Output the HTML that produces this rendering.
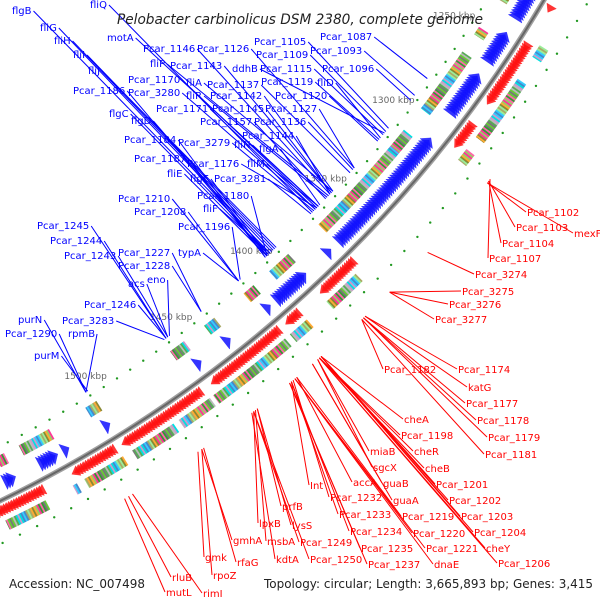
<!DOCTYPE html>
<html><head><meta charset="utf-8"><style>
html,body{margin:0;padding:0;background:#fff;}
svg{display:block;}
text{font-family:"DejaVu Sans","Liberation Sans",sans-serif;}
</style></head><body>
<svg id="map" width="600" height="600" viewBox="0 0 600 600" xmlns="http://www.w3.org/2000/svg">
<g id="tracks"></g>
<g id="leaders"></g>
<g id="labels"></g>
<text x="117" y="24" font-size="14" font-style="italic" fill="#222" textLength="366" lengthAdjust="spacingAndGlyphs">Pelobacter carbinolicus DSM 2380, complete genome</text>
<text x="9" y="588" font-size="12" fill="#222" textLength="136" lengthAdjust="spacingAndGlyphs">Accession: NC_007498</text>
<text x="264" y="588" font-size="12" fill="#222" textLength="329" lengthAdjust="spacingAndGlyphs">Topology: circular; Length: 3,665,893 bp; Genes: 3,415</text>
</svg>
<script>
const fwdBlocks=[[1222,1226],[1242,1276],[1286,1300],[1338,1341],[1368,1390],[1402,1411],[1414,1455],[1459,1503],[1506,1530],[1535,1538],[1543,1570]];
const revBlocks=[[1218,1236],[1243,1260],[1266,1290],[1303,1368],[1372,1376],[1388,1407],[1410,1414],[1434,1438],[1451,1455],[1502,1506],[1524,1528],[1530,1540],[1552,1558]];
const fwdBoxes=[[1240,1246],[1258,1290],[1297,1303],[1372,1390],[1402,1412],[1415,1456],[1458,1475],[1478,1500],[1505,1525],[1529,1531],[1545,1565]];
const revBoxes=[[1218,1232],[1248,1252],[1262,1295],[1308,1318],[1318,1368],[1388,1400],[1410,1416],[1434,1440],[1452,1460],[1502,1508],[1528,1544],[1552,1556]];
const tickKbp=[1250,1300,1350,1400,1450,1500];
const blueLabels=[["flgB",12,14,1394],["fliQ",90,8,1366],["fliG",40,31,1393],["fliH",54,44,1392],["fliI",73,58,1391],["fliJ",88,74,1390],["motA",107,41,1362],["Pcar_1186",73,94,1396],["Pcar_1146",143,52,1354],["Pcar_1126",197,52,1337],["fliP",150,67,1355],["Pcar_1143",170,69,1353],["Pcar_1170",128,83,1363],["fliA",186,86,1352],["Pcar_1137",207,88,1340],["Pcar_3280",128,96,1364],["fliR",186,99,1356],["Pcar_1142",210,99,1352],["Pcar_1105",254,45,1312],["Pcar_1109",256,58,1314],["ddhB",232,72,1315],["Pcar_1115",260,72,1316],["Pcar_1119",261,85,1319],["Pcar_1120",275,99,1320],["Pcar_1087",320,40,1282],["Pcar_1093",310,54,1292],["Pcar_1096",322,72,1295],["fliD",317,86,1318],["flgC",109,117,1395],["flgD",131,124,1395],["Pcar_1171",156,112,1364],["Pcar_1145",212,112,1353],["Pcar_1127",265,112,1337],["Pcar_1157",200,125,1357],["Pcar_1136",254,125,1338],["Pcar_1144",242,139,1354],["Pcar_1184",124,143,1397],["Pcar_3279",178,146,1365],["fliN",234,148,1362],["flgA",259,152,1361],["Pcar_1187",134,162,1397],["Pcar_1176",187,167,1363],["fliM",247,167,1362],["fliE",167,177,1396],["flgE",190,182,1396],["Pcar_3281",214,182,1367],["Pcar_1180",197,199,1396],["fliF",203,212,1394],["Pcar_1210",118,202,1414],["Pcar_1208",134,215,1414],["Pcar_1196",178,230,1413],["Pcar_1245",37,229,1458],["Pcar_1244",50,244,1458],["Pcar_1243",64,259,1457],["Pcar_1227",118,256,1437],["Pcar_1228",118,269,1437],["typA",178,256,1414],["acs",128,287,1457],["eno",147,283,1456],["Pcar_1246",84,308,1458],["Pcar_3283",62,324,1459],["rpmB",68,337,1504],["purN",18,323,1504],["Pcar_1290",5,337,1504],["purM",34,359,1503]];
const redLabels=[["Pcar_1102",527,216,1303],["Pcar_1103",516,231,1302],["mexF",574,237,1303],["Pcar_1104",502,247,1302],["Pcar_1107",489,262,1301],["Pcar_3274",475,278,1343],["Pcar_3275",462,295,1367],["Pcar_3276",449,308,1367],["Pcar_3277",435,323,1367],["Pcar_1182",384,373,1384],["Pcar_1174",458,373,1382],["katG",468,391,1382],["Pcar_1177",466,407,1383],["Pcar_1178",477,424,1383],["Pcar_1179",488,441,1383],["Pcar_1181",485,458,1384],["cheA",404,423,1408],["Pcar_1198",401,439,1409],["miaB",370,455,1410],["cheR",414,455,1409],["sgcX",373,471,1410],["cheB",425,472,1409],["accA",353,486,1422],["guaB",383,487,1413],["Pcar_1201",436,488,1408],["Int",310,489,1425],["Pcar_1232",330,501,1424],["guaA",393,504,1413],["Pcar_1202",449,504,1408],["Pcar_1233",339,518,1425],["Pcar_1219",402,520,1422],["Pcar_1203",461,520,1408],["prfB",282,510,1444],["Pcar_1234",350,535,1425],["Pcar_1220",413,537,1423],["Pcar_1204",474,536,1408],["lpxB",259,527,1446],["lysS",292,529,1444],["Pcar_1235",361,552,1426],["Pcar_1221",426,552,1423],["cheY",486,552,1409],["gmhA",233,544,1474],["msbA",267,545,1445],["Pcar_1249",300,546,1446],["Pcar_1250",310,563,1446],["kdtA",276,563,1447],["Pcar_1237",368,568,1426],["dnaE",434,568,1423],["Pcar_1206",498,567,1409],["gmk",205,561,1476],["rfaG",237,566,1473],["rpoZ",213,579,1474],["rluB",172,581,1512],["mutL",166,596,1514],["rimI",203,597,1510]];

const NS="http://www.w3.org/2000/svg";
const CX=-558,CY=-651,R=1280;
function ang(k){return (45.65+(k-1375)*0.0982)*Math.PI/180;}
function pt(k,r){const a=ang(k);return [CX+r*Math.cos(a),CY+r*Math.sin(a)];}
function mk(tag,attrs,parent){const e=document.createElementNS(NS,tag);for(const k in attrs)e.setAttribute(k,attrs[k]);parent.appendChild(e);return e;}
const tracks=document.getElementById('tracks');
const leaders=document.getElementById('leaders');
const labels=document.getElementById('labels');

const a0=pt(1200,R),a1=pt(1590,R);
const bb=mk('path',{d:`M${a0[0]},${a0[1]} A${R},${R} 0 0 1 ${a1[0]},${a1[1]}`,fill:'none',stroke:'#a0a0a0','stroke-width':5},tracks);


const bb2=mk('path',{d:`M${a0[0]},${a0[1]} A${R},${R} 0 0 1 ${a1[0]},${a1[1]}`,fill:'none',stroke:'#666','stroke-width':2},tracks);



function arrows(blocks,fwd,r1,r2,color,name){
  const L=3.4,S=1.3;
  blocks.forEach(b=>{
    for(let k=b[0];k+L<=b[1]+0.01;k+=S){
      let p1,p2,t;
      if(fwd){p1=pt(k,r1);p2=pt(k,r2);t=pt(k+L,(r1+r2)/2);}
      else{p1=pt(k+L,r1);p2=pt(k+L,r2);t=pt(k,(r1+r2)/2);}
      const e=mk('polygon',{points:`${p1} ${p2} ${t}`,fill:color,stroke:color,'stroke-width':0.3,'fill-opacity':0.85},tracks);
      
      
    }
  });
}
const pal=['#66cc33','#339933','#99cc66','#888833','#aaaa66','#33ccff','#00e0e0','#bbbbbb','#777777','#ff66aa','#ff3399','#ffaa33','#99ee99','#4488cc','#cc99cc','#55aa55'];
function boxes(blocks,r1,r2,name){
  let idx=0;
  blocks.forEach((b,bi)=>{
    for(let k=b[0];k<b[1];k+=0.8){
      const k2=Math.min(k+0.8,b[1]);
      const p1=pt(k,r1),p2=pt(k,r2),p3=pt(k2,r2),p4=pt(k2,r1);
      const c=pal[(idx*7+bi*3+Math.floor(k*1.7))%pal.length];idx++;
      const e=mk('polygon',{points:`${p1} ${p2} ${p3} ${p4}`,fill:c,stroke:c,'stroke-width':0.4},tracks);
      
      
    }
  });
}
arrows(fwdBlocks,true,R+4,R+15,'#ff1010','forward-gene-arrow');
arrows(revBlocks,false,R-7,R-23,'#1010ff','reverse-gene-arrow');
boxes(fwdBoxes,R+20,R+30,'forward-cog-box');
boxes(revBoxes,R-30,R-41,'reverse-cog-box');

for(let k=1205;k<1580;k+=8.5){
  const p=pt(k,R+39);
  const d=mk('circle',{cx:p[0],cy:p[1],r:1.2,fill:'#229922'},tracks);
  
  
}
for(let k=1203;k<1580;k+=7.5){
  const p=pt(k,R-49);
  const d=mk('circle',{cx:p[0],cy:p[1],r:1.2,fill:'#229922'},tracks);
  
  
}
tickKbp.forEach(k=>{
  const p=pt(k,R-68);
  const t=mk('text',{x:p[0],y:p[1]+3,'font-size':9,fill:'#666','text-anchor':'middle'},tracks);
  t.textContent=k+' kbp';
  
  
});
function addLabels(list,color,inner){
  list.forEach(l=>{
    const t=mk('text',{x:l[1],y:l[2],'font-size':10,fill:color},labels);
    t.textContent=l[0];
    
    
    const w=t.getComputedTextLength();
    let sx,sy,e;
    if(inner){sx=l[1]+w+2;sy=l[2]-3;e=pt(l[3],R-54);}
    else{sx=l[1]-1;sy=l[2]-4;e=pt(l[3],R+57);}
    const ln=mk('line',{x1:sx,y1:sy,x2:e[0],y2:e[1],stroke:color,'stroke-width':1},leaders);
    
    
  });
}
addLabels(blueLabels,'#0000ff',true);
addLabels(redLabels,'#ff0000',false);
</script>
</body></html>
